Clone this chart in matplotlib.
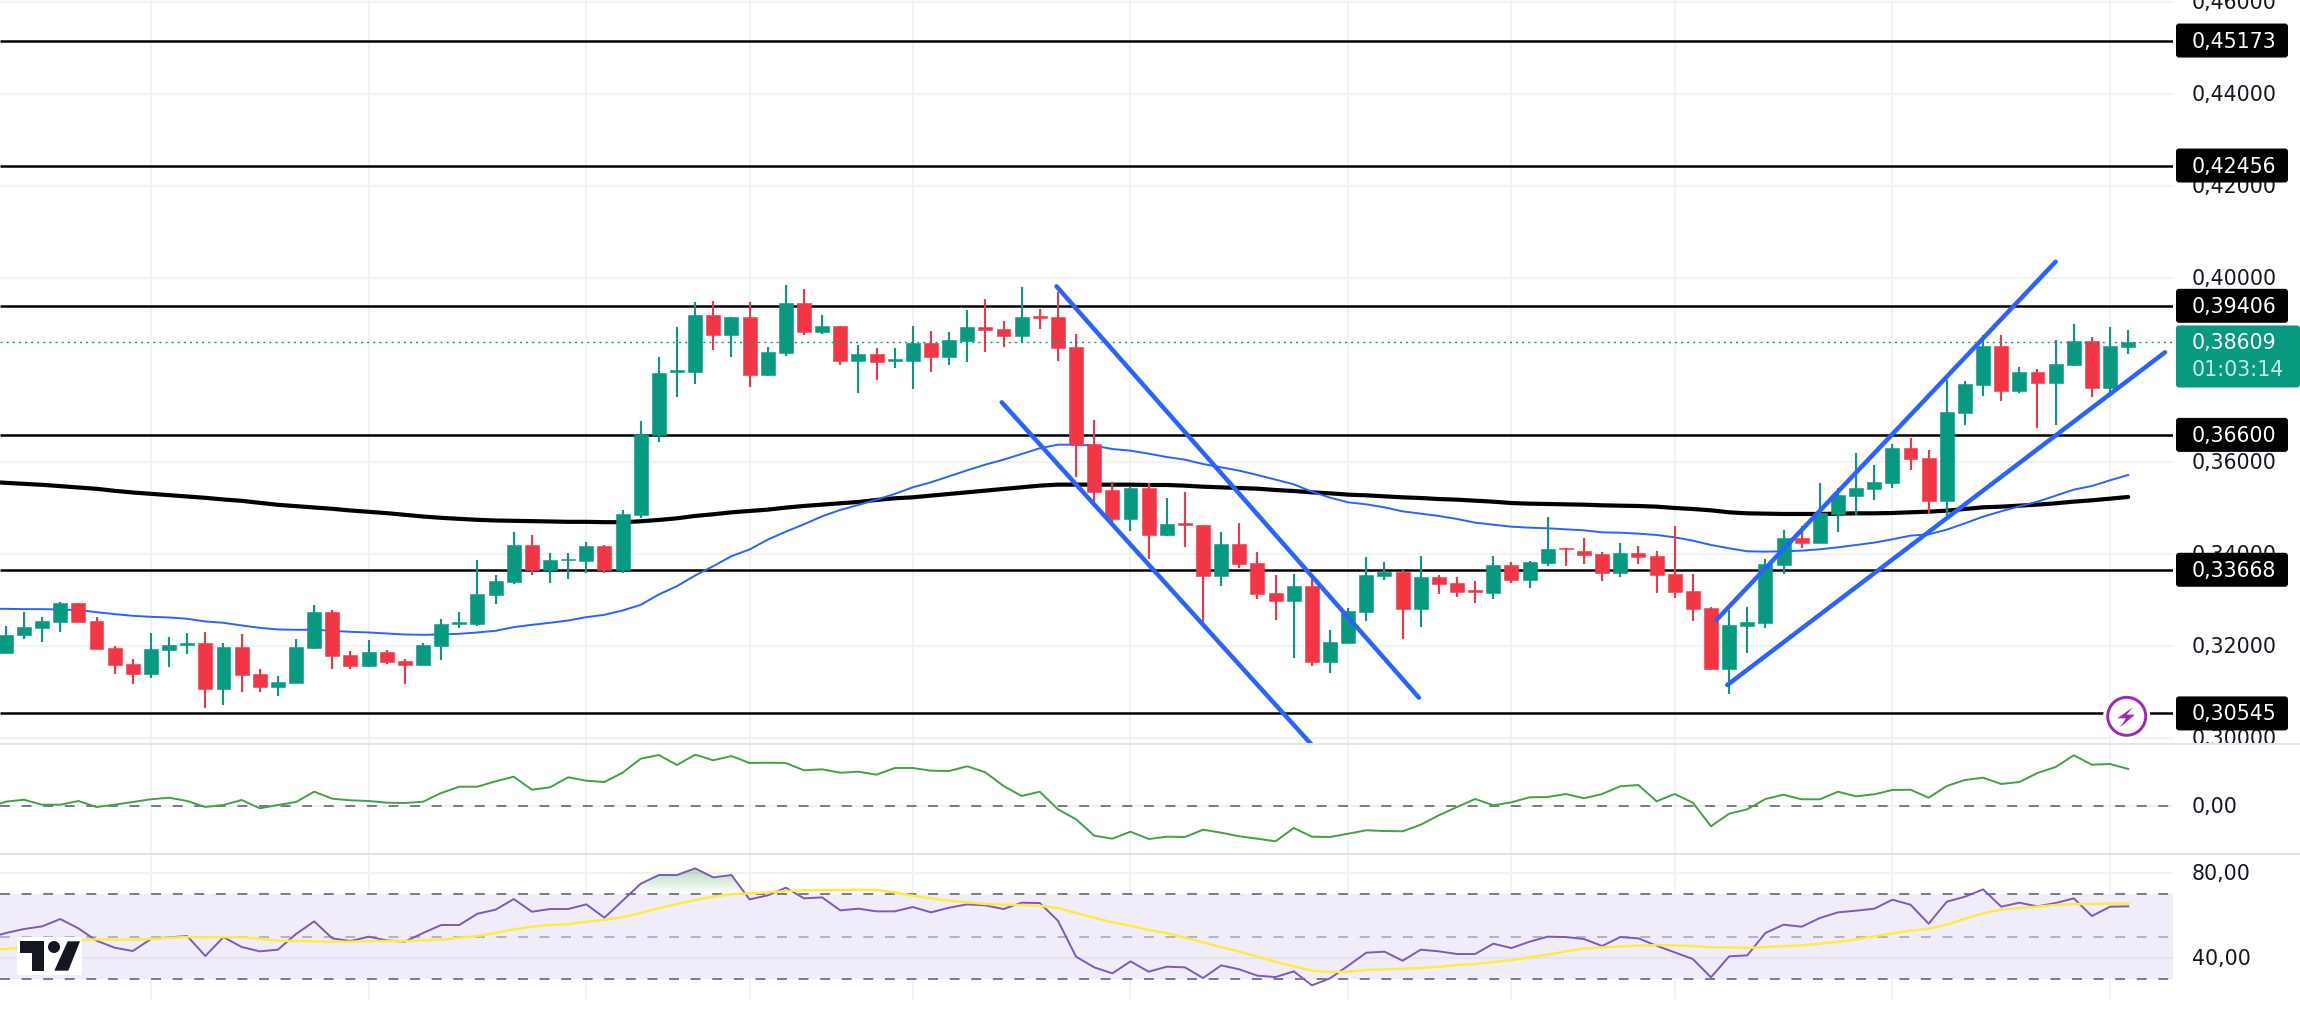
import numpy as np
import matplotlib
matplotlib.use("Agg")
import matplotlib.pyplot as plt
from matplotlib.colors import LinearSegmentedColormap
from matplotlib.patches import Circle, FancyBboxPatch, Polygon, Rectangle
from matplotlib.path import Path
from matplotlib.transforms import IdentityTransform

# candles
opens = [.31848, .32239, .32406, .32536, .32949, .32558, .31971, .31623, .31406, .31928,
         .32022, .32080, .31080, .31993, .31406, .31123, .31210, .31971, .32754, .31819,
         .31580, .31884, .31689, .31602, .32015, .32493, .32493, .33123, .33406, .34210,
         .33667, .33870, .33862, .34189, .33667, .34860, .36598, .37975, .37968, .39207,
         .38772, .39164, .37903, .38381, .39468, .38837, .38968, .38207, .38359, .38214,
         .38207, .38598, .38294, .38642, .38946, .38903, .38751, .39185, .39164, .38511,
         .36403, .35402, .34772, .35445, .34424, .34677, .34641, .33532, .34228, .33815,
         .33163, .32989, .33315, .31663, .32076, .32750, .33532, .33619, .32815, .33511,
         .33380, .33228, .33163, .33772, .33446, .33815, .34141, .34076, .34011, .33598,
         .34032, .33967, .33576, .33207, .32837, .31511, .32453, .32511, .33772, .34359,
         .34250, .34881, .35272, .35424, .35554, .36315, .36098, .35163, .37076, .37685,
         .38533, .37555, .37968, .37728, .38120, .38641, .37620, .38518]
highs = [.32450, .32747, .32638, .32971, .32949, .32638, .32007, .31732, .32297, .32210,
         .32297, .32319, .32080, .32276, .31515, .31363, .32167, .32906, .32797, .31906,
         .32145, .31928, .31732, .32080, .32602, .32754, .33884, .33558, .34493, .34428,
         .34036, .34036, .34275, .34210, .34971, .36903, .38294, .38946, .39490, .39511,
         .39164, .39490, .38511, .39859, .39772, .39207, .38968, .38555, .38490, .38490,
         .38968, .38859, .38837, .39316, .39555, .39077, .39816, .39337, .39707, .38794,
         .36925, .35576, .35467, .35554, .35228, .35358, .34641, .34489, .34685, .34054,
         .33554, .33576, .33511, .32359, .32837, .33946, .33837, .33663, .33967, .33554,
         .33511, .33424, .33967, .33837, .33859, .34815, .34141, .34359, .34054, .34250,
         .34185, .34076, .34619, .33576, .32859, .32794, .32859, .33902, .34533, .34620,
         .35554, .35446, .36207, .35946, .36402, .36533, .36272, .37794, .37772, .38772,
         .38772, .38076, .38033, .38663, .39011, .38728, .38946, .38881]
lows = [.31848, .32167, .32102, .32319, .32536, .31950, .31406, .31189, .31319, .31558,
        .31841, .30667, .30732, .31015, .31015, .30928, .31210, .31950, .31515, .31515,
        .31558, .31623, .31189, .31602, .31710, .32406, .32450, .32928, .33362, .33558,
        .33384, .33471, .33602, .33602, .33602, .34794, .36446, .37425, .37707, .38446,
        .38294, .37642, .37881, .38316, .38772, .38794, .38120, .37511, .37794, .38055,
        .37598, .37968, .38120, .38185, .38403, .38511, .38598, .38903, .38207, .35685,
        .35055, .34706, .34511, .33902, .34402, .34163, .32446, .33315, .33706, .33033,
        .32576, .31750, .31576, .31424, .32076, .32554, .33446, .32163, .32424, .33141,
        .33076, .32946, .33033, .33380, .33272, .33750, .33750, .33793, .33424, .33511,
        .33793, .33163, .33054, .32555, .31490, .30968, .31859, .32402, .33576, .34141,
        .34250, .34489, .34859, .35185, .35446, .35837, .34881, .34837, .36815, .37446,
        .37337, .37511, .36750, .36815, .38098, .37424, .37511, .38359]
closes = [.32254, .32428, .32558, .32949, .32536, .31950, .31602, .31406, .31950, .32036,
          .32080, .31080, .31993, .31384, .31123, .31232, .31993, .32754, .31797, .31580,
          .31884, .31667, .31602, .32036, .32493, .32536, .33145, .33428, .34210, .33667,
          .33884, .33906, .34189, .33667, .34884, .36620, .37946, .38011, .39207, .38772,
          .39164, .37903, .38403, .39468, .38837, .38968, .38207, .38359, .38185, .38250,
          .38598, .38294, .38664, .38946, .38881, .38751, .39164, .39149, .38490, .36381,
          .35359, .34772, .35445, .34424, .34663, .34648, .33532, .34228, .33793, .33141,
          .32989, .33315, .31663, .32098, .32772, .33554, .33619, .32815, .33511, .33359,
          .33185, .33192, .33772, .33446, .33837, .34119, .34112, .33989, .33598, .34032,
          .33946, .33554, .33185, .32816, .31511, .32468, .32533, .33794, .34359, .34250,
          .34902, .35294, .35446, .35576, .36315, .36076, .35163, .37098, .37707, .38533,
          .37555, .37968, .37728, .38141, .38641, .37620, .38533, .38609]

# moving averages on the price pane, from the bar left of the first candle on
ma_blue = [.32822, .32819, .32812, .32812, .32805, .32790, .32747, .32703, .32667, .32645, .32631,
           .32602, .32544, .32515, .32457, .32406, .32370, .32363, .32363, .32341, .32319,
           .32305, .32283, .32261, .32254, .32261, .32276, .32305, .32341, .32421, .32471,
           .32515, .32565, .32638, .32689, .32783, .32906, .33131, .33312, .33544, .33747,
           .33964, .34109, .34323, .34497, .34657, .34830, .34968, .35077, .35193, .35316,
           .35461, .35569, .35700, .35830, .35954, .36062, .36185, .36309, .36388, .36388,
           .36366, .36293, .36257, .36192, .36119, .36061, .35967, .35895, .35822, .35728,
           .35627, .35525, .35366, .35235, .35134, .35090, .35025, .34938, .34888, .34837,
           .34772, .34692, .34648, .34605, .34583, .34569, .34547, .34525, .34482, .34474,
           .34453, .34424, .34373, .34301, .34207, .34134, .34069, .34062, .34069, .34084,
           .34113, .34156, .34207, .34258, .34330, .34410, .34439, .34540, .34678, .34823,
           .34939, .35047, .35149, .35279, .35410, .35489, .35613, .35729]
ma_black = [.35580, .35558, .35536, .35515, .35486, .35457, .35428, .35384, .35348, .35319, .35290,
            .35261, .35232, .35196, .35167, .35123, .35080, .35051, .35022, .34993, .34957,
            .34928, .34899, .34862, .34826, .34797, .34775, .34754, .34739, .34732, .34725,
            .34718, .34710, .34710, .34703, .34703, .34722, .34751, .34787, .34838, .34874,
            .34917, .34946, .34975, .35019, .35055, .35084, .35113, .35142, .35186, .35222,
            .35243, .35280, .35316, .35352, .35388, .35425, .35461, .35497, .35519, .35519,
            .35518, .35518, .35518, .35511, .35511, .35496, .35474, .35460, .35445, .35431,
            .35402, .35380, .35351, .35330, .35301, .35286, .35264, .35243, .35228, .35206,
            .35192, .35170, .35148, .35119, .35105, .35098, .35090, .35083, .35069, .35061,
            .35054, .35040, .35011, .34989, .34960, .34917, .34895, .34888, .34881, .34881,
            .34881, .34888, .34895, .34895, .34902, .34917, .34931, .34953, .34989, .35026,
            .35040, .35062, .35084, .35113, .35149, .35178, .35214, .35250]

# middle pane oscillator
osc = [-.0017, .0043, .0063, .0013, .0013, .005, -.001, .0013, .004, .0067, .0083,
       .005, -.001, .001, .006, -.0023, .001, .004, .0143, .0073, .0057,
       .005, .0033, .003, .0043, .013, .0193, .0193, .0247, .0293, .0163,
       .0187, .0287, .0253, .024, .0333, .0473, .051, .041, .0513, .0457,
       .05, .043, .0433, .043, .0357, .0367, .0333, .0343, .0313, .038,
       .038, .0353, .035, .0397, .0337, .02, .01, .0143, -.0033, -.0133,
       -.0297, -.0327, -.0257, -.033, -.0307, -.031, -.0237, -.0267, -.0303, -.0327,
       -.0353, -.022, -.0307, -.031, -.0277, -.0243, -.025, -.0253, -.0187, -.0093,
       -.001, .007, .0007, .0037, .0087, .009, .012, .0077, .012, .0197,
       .021, .0047, .012, .0033, -.0203, -.0077, -.0033, .007, .0113, .0067,
       .0067, .0143, .0097, .0117, .016, .0163, .0083, .02, .026, .0283,
       .022, .024, .033, .039, .0507, .0413, .042, .037]

# RSI and its average
rsi = [49.22, 51.72, 53.59, 54.84, 58.28, 53.91, 48.13, 44.84, 43.28, 48.91, 49.69,
       50.31, 40.94, 49.84, 45.16, 43.13, 43.91, 51.25, 57.19, 49.22, 47.97,
       50.0, 48.28, 47.66, 51.72, 55.47, 55.47, 60.78, 62.66, 67.66, 61.72,
       62.97, 62.97, 65.16, 58.91, 66.88, 74.84, 78.91, 78.91, 82.03, 77.81,
       78.91, 67.5, 69.38, 72.97, 67.97, 68.44, 62.34, 63.13, 61.88, 61.88,
       63.91, 61.41, 63.59, 65.16, 64.69, 62.97, 65.94, 65.78, 57.5, 40.63,
       35.63, 32.81, 38.44, 33.59, 35.94, 35.63, 30.63, 36.56, 34.69, 31.72,
       31.09, 33.75, 27.19, 30.47, 36.41, 42.5, 42.97, 38.75, 43.91, 43.13,
       41.88, 41.88, 46.72, 44.69, 47.66, 50.0, 49.84, 48.91, 45.63, 49.84,
       49.22, 45.78, 42.66, 39.53, 30.94, 40.78, 41.25, 51.72, 55.63, 54.69,
       58.75, 61.41, 62.19, 63.13, 67.34, 65.0, 56.09, 66.41, 68.75, 72.19,
       64.06, 65.94, 64.22, 65.78, 67.97, 59.69, 64.06, 64.22]
rsi_ma = [43.6, 44.22, 45.0, 45.94, 47.34, 48.28, 48.75, 48.59, 48.59, 48.91, 49.53,
          49.84, 49.69, 49.84, 49.69, 49.06, 48.13, 47.97, 47.81, 47.66, 47.66,
          47.97, 47.97, 47.97, 48.28, 48.59, 49.53, 50.31, 51.72, 53.44, 54.69,
          55.47, 55.94, 57.03, 57.81, 59.22, 61.09, 63.44, 65.31, 67.19, 68.75,
          70.0, 70.31, 70.78, 71.41, 71.72, 71.88, 71.88, 72.03, 71.88, 70.78,
          69.22, 67.97, 66.88, 66.09, 65.31, 65.0, 64.84, 64.53, 63.44, 61.09,
          58.91, 56.72, 55.16, 53.13, 51.72, 49.53, 47.34, 45.16, 42.97, 40.63,
          38.28, 36.09, 34.06, 33.44, 33.59, 34.38, 34.69, 35.0, 35.31, 35.94,
          36.72, 37.19, 38.13, 39.06, 40.31, 41.56, 43.13, 44.38, 45.0, 45.47,
          45.78, 46.09, 45.94, 45.63, 45.0, 45.0, 44.69, 45.16, 45.63, 45.94,
          46.72, 47.66, 48.75, 50.16, 51.56, 52.81, 53.75, 55.63, 58.44, 60.94,
          62.69, 63.47, 64.09, 64.88, 65.34, 65.34, 65.5, 65.5]

# drawn levels and channels, as (bar index, price)
levels = [.45173, .42456, .39406, .36600, .33668, .30545]
level_labels = ["0,45173", "0,42456", "0,39406", "0,36600", "0,33668", "0,30545"]
channels = [((57.92, .39830), (77.90, .30887)),
            ((54.90, .37309), (73.00, .29424)),
            ((94.30, .32576), (113.00, .40365)),
            ((94.90, .31163), (119.03, .38396))]

price_ticks = [.46, .44, .42, .40, .36, .34, .32, .30]
price_tick_labels = ["0,46000", "0,44000", "0,42000", "0,40000", "0,36000", "0,34000", "0,32000", "0,30000"]
time_ticks = [8, 20, 32, 41, 50, 62, 74, 83, 92, 104, 116]
last_price = .38609
last_label = "0,38609"
countdown = "01:03:14"

W, H = 2300, 1012
GREEN, RED = "#089981", "#f23645"
GRID = "#f1f2f5"
SEP = "#e0e3eb"
DARK = "#131722"
TICK_FS = 14.8


def pane(x0, y0, x1, y1):
    # box given in image pixels, y counted from the top
    ax = plt.gcf().add_axes([x0 / W, 1 - y1 / H, (x1 - x0) / W, (y1 - y0) / H])
    ax.axis("off")
    return ax


def px(x, y):
    return x, H - y


fig = plt.figure(figsize=(W / 100, H / 100), dpi=100, facecolor="white")

ax_p = pane(0, 0, 2173, 744)
ax_o = pane(0, 745, 2173, 854)
ax_r = pane(0, 855, 2173, 1000)
lab_p = pane(2173, 0, 2300, 744)
lab_o = pane(2173, 745, 2300, 854)
lab_r = pane(2173, 855, 2300, 1000)

x = np.arange(len(closes))
x_line = np.arange(-1, len(closes))
xlim = (-0.32, 119.47)
plim = (.29902, .46076)
olim = (-.047, .062)
rlim = (20.79, 88.77)

for ax, lim in [(ax_p, plim), (ax_o, olim), (ax_r, rlim)]:
    ax.vlines(time_ticks, *lim, color=GRID, lw=1.4, zorder=0)

# price pane
ax_p.hlines(price_ticks, *xlim, color=GRID, lw=1.6, zorder=0)
ax_p.hlines(levels, *xlim, color="black", lw=1.8, zorder=1)
ax_p.plot(x_line, ma_black, color="black", lw=3.0, zorder=2, solid_capstyle="round")
ax_p.plot(x_line, ma_blue, color="#2962ff", lw=1.4, zorder=2)

o = np.array(opens)
c = np.array(closes)
colors = [GREEN if cl >= op else RED for op, cl in zip(opens, closes)]
ax_p.vlines(x, lows, highs, color=colors, lw=1.5, zorder=3)
ax_p.bar(x, np.abs(c - o), bottom=np.minimum(o, c), width=0.77, color=colors,
         edgecolor=colors, linewidth=0.4, zorder=4)
ax_p.hlines(last_price, *xlim, color=GREEN, lw=1.0, linestyles=[(0, (1.5, 2.9))], zorder=5)

for (x0, y0), (x1, y1) in channels:
    ax_p.plot([x0, x1], [y0, y1], color="#2962ff", lw=3.2, zorder=6, solid_capstyle="round")

# oscillator pane
ax_o.hlines(0, *xlim, color=GRID, lw=1.6, zorder=0)
ax_o.hlines(0, *xlim, color="#787b86", lw=1.4, linestyles=[(0, (5.1, 6))], zorder=1)
ax_o.plot(x_line, osc, color="#43a047", lw=1.4, zorder=2)

# RSI pane
ax_r.add_patch(Rectangle((xlim[0], 30), xlim[1] - xlim[0], 40, color="#f0ecf9", lw=0, zorder=0))
ax_r.hlines([80, 40], *xlim, color=GRID, lw=1.6, zorder=0.5)
ax_r.hlines(40, *xlim, color="#e6e3ef", lw=1.6, zorder=0.6)
ax_r.hlines([70, 30], *xlim, color="#787b86", lw=1.4, linestyles=[(0, (5.1, 6))], zorder=1)
ax_r.hlines(50, *xlim, color="#b2b3bb", lw=1.4, linestyles=[(0, (5.1, 6))], zorder=1)

rsi_arr = np.array(rsi)
hot = ax_r.fill_between(x_line, rsi_arr, 70, where=rsi_arr > 70, interpolate=True, color="none")
cmap = LinearSegmentedColormap.from_list("hot", [(.298, .686, .314, .0), (.298, .686, .314, .42)])
img = ax_r.imshow(np.linspace(1, 0, 64).reshape(-1, 1), extent=[0, 117, 70, rsi_arr.max()],
                  aspect="auto", cmap=cmap, zorder=1.5)
img.set_clip_path(Path.make_compound_path(*hot.get_paths()), transform=ax_r.transData)
ax_r.plot(x_line, rsi, color="#7e57c2", lw=1.4, zorder=2)
ax_r.plot(x_line, rsi_ma, color="#ffeb3b", lw=1.7, zorder=3)

for ax, lim in [(ax_p, plim), (ax_o, olim), (ax_r, rlim)]:
    ax.set_xlim(xlim)
    ax.set_ylim(lim)
lab_p.set_ylim(plim)
lab_o.set_ylim(olim)
lab_r.set_ylim(rlim)
for ax in (lab_p, lab_o, lab_r):
    ax.set_xlim(2173, 2300)

# price scale
for v, s in zip(price_ticks, price_tick_labels):
    lab_p.text(2192, v, s, color=DARK, fontsize=TICK_FS, va="center", ha="left", clip_on=True, zorder=2)
lab_o.text(2192, 0, "0,00", color=DARK, fontsize=TICK_FS, va="center", ha="left", zorder=2)
lab_r.text(2192, 80, "80,00", color=DARK, fontsize=TICK_FS, va="center", ha="left", zorder=2)
lab_r.text(2192, 40, "40,00", color=DARK, fontsize=TICK_FS, va="center", ha="left", zorder=2)

for v, s in zip(levels, level_labels):
    yc = lab_p.transData.transform((2200, v))[1]
    lab_p.add_patch(FancyBboxPatch((2178, yc - 15), 108, 30, boxstyle="round,pad=2,rounding_size=3",
                                   fc="black", ec="none", transform=IdentityTransform(), zorder=3))
    lab_p.text(2192, v, s, color="white", fontsize=TICK_FS, va="center", ha="left", zorder=4)

yc = lab_p.transData.transform((2200, last_price))[1]
lab_p.add_patch(FancyBboxPatch((2178, yc - 43), 120, 58, boxstyle="round,pad=2,rounding_size=3",
                               fc=GREEN, ec="none", transform=IdentityTransform(), zorder=3))
lab_p.text(2192, last_price, last_label, color="white", fontsize=TICK_FS, va="center", ha="left", zorder=4)
fig.text(2192 / W, 1 - 370 / H, countdown, color="white", alpha=0.78, fontsize=TICK_FS, va="center", ha="left", zorder=9)

# panel separators
fig.add_artist(Rectangle((0, 1 - 745.5 / H), 1, 2 / H, color=SEP, lw=0, transform=fig.transFigure))
fig.add_artist(Rectangle((0, 1 - 855.5 / H), 1, 2 / H, color=SEP, lw=0, transform=fig.transFigure))

# lightning button
cx, cy = px(2126.7, 717.3)
fig.add_artist(Circle((cx, cy), 23.5, fc="white", ec="none", transform=IdentityTransform(), zorder=7))
fig.add_artist(Circle((cx, cy), 19, fc="white", ec="#9c27b0", lw=2.1, transform=IdentityTransform(), zorder=8))
bolt = [(128, 85), (82, 118), (108, 118), (90, 145), (135, 107), (110, 107)]
fig.add_artist(Polygon([px(2090 + a / 3, 680 + b / 3) for a, b in bolt], fc="#9c27b0", ec="none",
                       transform=IdentityTransform(), zorder=8))

# TradingView mark
fig.add_artist(Rectangle(px(16.7, 975.7), 65, 38, fc="white", ec="none", transform=IdentityTransform(), zorder=7))
tee = [(60, 52), (133, 52), (133, 140), (97, 140), (97, 88), (60, 88)]
slash = [(203, 52), (240, 52), (205, 140), (163, 140)]
for shape in (tee, slash):
    fig.add_artist(Polygon([px(a / 3, 925 + b / 3) for a, b in shape], fc=DARK, ec="none",
                           transform=IdentityTransform(), zorder=8))
fig.add_artist(Circle(px(162 / 3, 925 + 69 / 3), 6, fc=DARK, ec="none", transform=IdentityTransform(), zorder=8))

fig.savefig("out.png", dpi=100, facecolor="white")
